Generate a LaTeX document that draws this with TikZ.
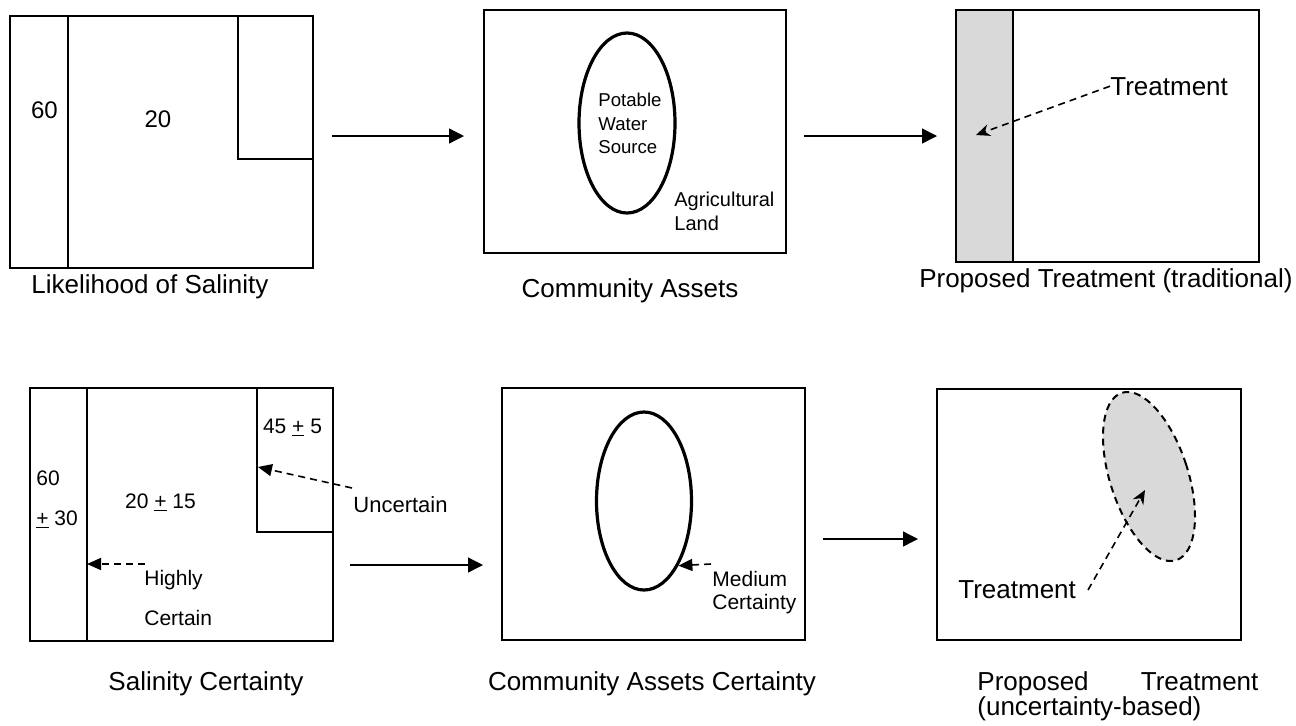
\documentclass[tikz,border=0pt]{standalone}
\usepackage{fontspec}
\setmainfont{Liberation Sans}
\usetikzlibrary{arrows.meta,shapes.geometric}

\begin{document}
\begin{tikzpicture}[x=0.5pt,y=-0.5pt,
    panel/.style={line width=1pt},
    flow/.style={line width=0.65pt,-{Triangle[length=7.5pt,width=7.5pt]}},
    callout/.style={line width=0.8pt,dash pattern=on 3.5pt off 2.5pt,-{Triangle[length=7pt,width=6pt]}},
    pointer/.style={line width=0.8pt,dash pattern=on 3.5pt off 2.5pt,-{Stealth[length=7pt,width=6pt]}},
    captxt/.style={font=\fontsize{13}{15}\selectfont,inner sep=0pt},
    numtxt/.style={font=\fontsize{12}{14}\selectfont,inner sep=0pt},
    midtxt/.style={font=\fontsize{10.5}{11.5}\selectfont,inner sep=0pt,align=left},
    smalltxt/.style={font=\fontsize{9.3}{11.75}\selectfont,inner sep=0pt,align=left},
    asset/.style={draw,ellipse,line width=1.6pt,inner sep=0pt,minimum width=48pt,minimum height=90pt},
    treated/.style={fill=black!15},
]
    \useasboundingbox (0,0) rectangle (1296,725);

    % top row
    \draw [panel] (10,16) rectangle (313,268);
    \draw [panel] (68,16) -- (68,268);
    \draw [panel] (238,16) rectangle (313,159);
    \node [numtxt,anchor=base] (v60) at (44.5,118) {60};
    \node [numtxt,anchor=base] (v20) at (158,127) {20};
    \node [captxt,anchor=base] (likely) at (150,293) {Likelihood of Salinity};

    \coordinate (a1s) at (332,136);
    \coordinate (a1e) at (464,136);
    \draw [flow] (a1s) -- (a1e);

    \draw [panel] (484,10) rectangle (786,253);
    \node [asset] (water) at (627,123) {};
    \node [smalltxt,anchor=north west] (waterlbl) at (598,93) {Potable\\Water\\Source};
    \node [smalltxt,font=\fontsize{10}{12}\selectfont,anchor=north west] (agri) at (674,192) {Agricultural\\Land};
    \node [captxt,anchor=base] (assets) at (630,297) {Community Assets};

    \coordinate (a2s) at (804,136);
    \coordinate (a2e) at (937,136);
    \draw [flow] (a2s) -- (a2e);

    \fill [treated] (956,10) rectangle (1013,262);
    \draw [panel] (956,10) rectangle (1259,262);
    \draw [panel] (1013,10) -- (1013,262);
    \node [captxt,anchor=base west] (treat1) at (1110,95) {Treatment};
    \coordinate (strip) at (976,135);
    \draw [pointer] (treat1.west) -- (strip);
    \node [captxt,anchor=base east] (trad) at (1293,287) {Proposed Treatment (traditional)};

    % bottom row
    \draw [panel] (30,388) rectangle (333,641);
    \draw [panel] (87,388) -- (87,641);
    \draw [panel] (257,388) rectangle (333,532);
    \node [midtxt,anchor=base] (v45) at (292.5,433) {45 \underline{+} 5};
    \node [midtxt,anchor=base west] (v60b) at (36,485) {60};
    \node [midtxt,anchor=base west] (v30) at (36,525) {\underline{+} 30};
    \node [midtxt,anchor=base] (v2015) at (160.5,508) {20 \underline{+} 15};
    \node [midtxt,anchor=base west] (high) at (144,585) {Highly};
    \node [midtxt,anchor=base west] (cert) at (144,625) {Certain};
    \node [midtxt,font=\fontsize{11}{13}\selectfont,anchor=base west] (unc) at (353,512) {Uncertain};
    \coordinate (hc) at (145,564);
    \coordinate (divider) at (87,564);
    \draw [callout] (hc) -- (divider);
    \coordinate (uc) at (352,488);
    \coordinate (corner) at (258,467);
    \draw [callout] (uc) -- (corner);
    \node [captxt,anchor=base] (salcert) at (206,690) {Salinity Certainty};

    \coordinate (a3s) at (350,565);
    \coordinate (a3e) at (483,565);
    \draw [flow] (a3s) -- (a3e);

    \draw [panel] (502,388) rectangle (805,640);
    \node [asset,minimum width=47.5pt,minimum height=89pt] (supply) at (644,501) {};
    \node [midtxt,anchor=north west] (medium) at (712,571) {Medium\\Certainty};
    \coordinate (mc) at (711,564);
    \draw [callout] (mc) -- (supply.-62);
    \node [captxt,anchor=base] (assetcert) at (652,690) {Community Assets Certainty};

    \coordinate (a4s) at (823,539);
    \coordinate (a4e) at (918,539);
    \draw [flow] (a4s) -- (a4e);

    \draw [panel] (937,389) rectangle (1241,640);
    \node [draw,ellipse,treated,line width=1pt,dash pattern=on 3.5pt off 2.5pt,
        inner sep=0pt,minimum width=39pt,minimum height=88pt,rotate=18] (zone) at (1149,476.5) {};
    \node [captxt,anchor=base west] (treat2) at (958,598) {Treatment};
    \coordinate (tc) at (1088,590);
    \coordinate (zc) at (1145,490);
    \draw [pointer] (tc) -- (zc);
    \node [captxt,font=\fontsize{13}{12.5}\selectfont,text width=140.5pt,align=left,anchor=north west]
        (uncert) at (977,671) {Proposed\hfill Treatment\\(uncertainty-based)};
\end{tikzpicture}
\end{document}
